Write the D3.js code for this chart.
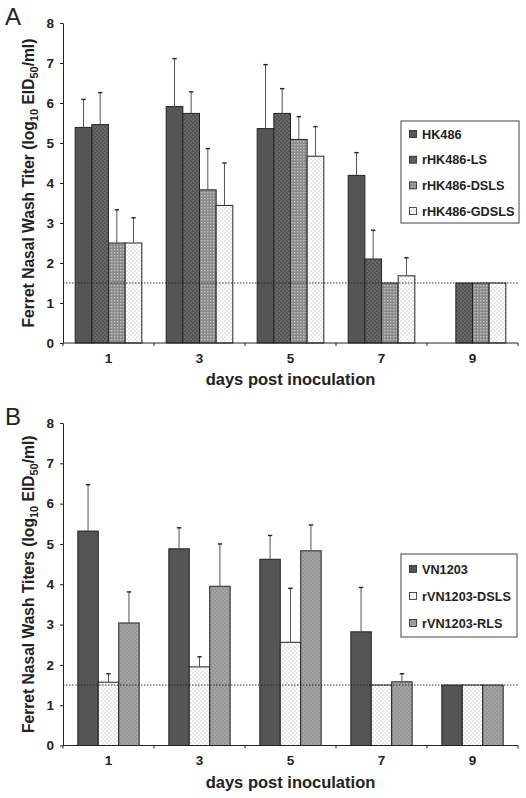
<!DOCTYPE html>
<html>
<head>
<meta charset="utf-8">
<script src="https://cdn.jsdelivr.net/npm/d3@7"></script>
<style>
  html, body { margin: 0; padding: 0; background: #fff; }
  svg { display: block; }
  text { font-family: "Liberation Sans", Arial, Helvetica, sans-serif; fill: #222; }
</style>
</head>
<body>
<script>
// ---------- data ----------
const days = ["1", "3", "5", "7", "9"];
const yTicks = [0, 1, 2, 3, 4, 5, 6, 7, 8];
const detectionLimit = 1.5;

// Panel A
const seriesA = ["HK486", "rHK486-LS", "rHK486-DSLS", "rHK486-GDSLS"];
const hk486      = [5.39, 5.91, 5.36, 4.19, null];
const hk486Upper = [6.09, 7.11, 6.96, 4.76, null];
const rLS        = [5.46, 5.74, 5.74, 2.10, 1.5];
const rLSUpper   = [6.26, 6.28, 6.36, 2.82, null];
const rDSLS      = [2.50, 3.83, 5.09, 1.50, 1.5];
const rDSLSUpper = [3.33, 4.86, 5.66, null, null];
const rGDSLS     = [2.50, 3.44, 4.67, 1.68, 1.5];
const rGDSLSUpper= [3.13, 4.50, 5.41, 2.13, null];

// Panel B
const seriesB = ["VN1203", "rVN1203-DSLS", "rVN1203-RLS"];
const vn1203      = [5.32, 4.88, 4.62, 2.82, 1.5];
const vn1203Upper = [6.47, 5.40, 5.21, 3.92, null];
const vnDSLS      = [1.57, 1.95, 2.56, 1.50, 1.5];
const vnDSLSUpper = [1.78, 2.20, 3.90, null, null];
const vnRLS       = [3.04, 3.95, 4.83, 1.58, 1.5];
const vnRLSUpper  = [3.81, 5.00, 5.47, 1.78, null];

// ---------- drawing ----------
const W = 526, H = 798;
const svg = d3.select("body").append("svg").attr("width", W).attr("height", H);
const defs = svg.append("defs");

function dotPattern(id, bg, dot, size, r, offset) {
  const p = defs.append("pattern").attr("id", id).attr("patternUnits", "userSpaceOnUse")
    .attr("width", size).attr("height", size);
  p.append("rect").attr("width", size).attr("height", size).attr("fill", bg);
  p.append("circle").attr("cx", size / 4).attr("cy", size / 4).attr("r", r).attr("fill", dot);
  if (offset) p.append("circle").attr("cx", size * 3 / 4).attr("cy", size * 3 / 4).attr("r", r).attr("fill", dot);
}
dotPattern("pLS", "#545454", "#8a8a8a", 4, 0.7, true);
dotPattern("pDSLS", "#8a8a8a", "#d0d0d0", 3, 0.75, false);
dotPattern("pGDSLS", "#ffffff", "#9a9a9a", 4, 0.55, true);
dotPattern("pVDSLS", "#ffffff", "#9a9a9a", 4, 0.55, true);
dotPattern("pRLS", "#969696", "#bdbdbd", 4, 0.7, true);

function drawPanel(cfg) {
  const g = svg.append("g");
  const x0 = d3.scaleBand().domain(days).range([cfg.left, cfg.right]).padding(0);
  const bw = x0.bandwidth();
  const x1 = d3.scaleBand().domain(cfg.series)
    .range([bw * cfg.inset, bw * (1 - cfg.inset)]).padding(0);
  const y = d3.scaleLinear().domain([0, 8]).range([cfg.bottom, cfg.top]);

  // bars
  cfg.series.forEach((s, si) => {
    const vals = cfg.values[si], ups = cfg.uppers[si];
    const data = days.map((d, i) => ({ d, v: vals[i], u: ups[i] })).filter(o => o.v != null);
    g.selectAll(null).data(data).enter().append("rect")
      .attr("x", o => x0(o.d) + x1(s))
      .attr("y", o => y(o.v))
      .attr("width", x1.bandwidth())
      .attr("height", o => y(0) - y(o.v))
      .attr("fill", cfg.fills[si])
      .attr("stroke", "#222").attr("stroke-width", 1);
    const errs = data.filter(o => o.u != null);
    const cx = o => x0(o.d) + x1(s) + x1.bandwidth() / 2;
    g.selectAll(null).data(errs).enter().append("line")
      .attr("x1", cx).attr("x2", cx)
      .attr("y1", o => y(o.v)).attr("y2", o => y(o.u))
      .attr("stroke", "#555").attr("stroke-width", 1);
    g.selectAll(null).data(errs).enter().append("line")
      .attr("x1", o => cx(o) - 2.2).attr("x2", o => cx(o) + 2.2)
      .attr("y1", o => y(o.u)).attr("y2", o => y(o.u))
      .attr("stroke", "#222").attr("stroke-width", 1.4);
  });

  // detection limit dotted line
  g.append("line")
    .attr("x1", cfg.left).attr("x2", cfg.right)
    .attr("y1", y(detectionLimit)).attr("y2", y(detectionLimit))
    .attr("stroke", "#222").attr("stroke-width", 0.9).attr("stroke-dasharray", "1.5,1.5");

  // y axis
  const ya = g.append("g").attr("transform", `translate(${cfg.left},0)`)
    .call(d3.axisLeft(y).tickValues(yTicks).tickFormat(d3.format("d")).tickSize(3).tickSizeOuter(0).tickPadding(6));
  ya.select(".domain").attr("stroke", "#222");
  ya.selectAll(".tick line").attr("stroke", "#222");
  ya.selectAll("text").attr("font-size", 13.5).attr("font-weight", "bold")
    .attr("font-family", '"Liberation Sans", Arial, sans-serif').attr("fill", "#222");

  // x axis
  const xa = g.append("g").attr("transform", `translate(0,${cfg.bottom})`)
    .call(d3.axisBottom(x0).tickSize(0).tickPadding(10));
  xa.select(".domain").remove();
  xa.selectAll("text").attr("font-size", 13.5).attr("font-weight", "bold")
    .attr("font-family", '"Liberation Sans", Arial, sans-serif').attr("fill", "#222");
  g.append("line").attr("x1", cfg.left).attr("x2", cfg.right)
    .attr("y1", cfg.bottom).attr("y2", cfg.bottom).attr("stroke", "#222");
  const bounds = days.map(d => x0(d)).concat([cfg.right]);
  g.selectAll(null).data(bounds).enter().append("line")
    .attr("x1", d => d).attr("x2", d => d)
    .attr("y1", cfg.bottom).attr("y2", cfg.bottom + 3).attr("stroke", "#222");

  // x title
  g.append("text").attr("x", (cfg.left + cfg.right) / 2).attr("y", cfg.bottom + 42)
    .attr("text-anchor", "middle").attr("font-size", 16.5).attr("font-weight", "bold")
    .text("days post inoculation");

  // y title
  const yt = g.append("text")
    .attr("transform", `translate(34,${(cfg.top + cfg.bottom) / 2}) rotate(-90)`)
    .attr("text-anchor", "middle").attr("font-size", 15.6).attr("font-weight", "bold");
  yt.append("tspan").text(cfg.yTitle + " (log");
  yt.append("tspan").attr("font-size", 11).attr("dy", 3.5).text("10");
  yt.append("tspan").attr("dy", -3.5).text(" EID");
  yt.append("tspan").attr("font-size", 11).attr("dy", 3.5).text("50");
  yt.append("tspan").attr("dy", -3.5).text("/ml)");

  // panel letter
  g.append("text").attr("x", 5).attr("y", cfg.top + 2).attr("font-size", 24)
    .text(cfg.letter);

  // legend
  const L = cfg.legend;
  g.append("rect").attr("x", L.x).attr("y", L.y).attr("width", L.w).attr("height", L.h)
    .attr("fill", "#fff").attr("stroke", "#444").attr("stroke-width", 1);
  cfg.series.forEach((s, si) => {
    const cy = L.y + L.first + si * L.step;
    g.append("rect").attr("x", L.x + 8.5).attr("y", cy - 3.5).attr("width", 7).attr("height", 7)
      .attr("fill", cfg.fills[si]).attr("stroke", "#222").attr("stroke-width", 0.8);
    g.append("text").attr("x", L.x + 21).attr("y", cy).attr("dy", "0.36em")
      .attr("font-size", 12.7).attr("font-weight", "bold").text(s);
  });
}

drawPanel({
  letter: "A", series: seriesA,
  values: [hk486, rLS, rDSLS, rGDSLS],
  uppers: [hk486Upper, rLSUpper, rDSLSUpper, rGDSLSUpper],
  fills: ["#555555", "url(#pLS)", "url(#pDSLS)", "url(#pGDSLS)"],
  left: 63, right: 518, top: 23, bottom: 343, inset: 0.134,
  yTitle: "Ferret Nasal Wash Titer",
  legend: { x: 401, y: 121, w: 118, h: 102, first: 13, step: 25.7 }
});

drawPanel({
  letter: "B", series: seriesB,
  values: [vn1203, vnDSLS, vnRLS],
  uppers: [vn1203Upper, vnDSLSUpper, vnRLSUpper],
  fills: ["#555555", "url(#pVDSLS)", "url(#pRLS)"],
  left: 63, right: 518, top: 423, bottom: 745.5, inset: 0.163,
  yTitle: "Ferret Nasal Wash Titers",
  legend: { x: 401, y: 554, w: 116, h: 83, first: 15, step: 27 }
});
</script>
</body>
</html>
